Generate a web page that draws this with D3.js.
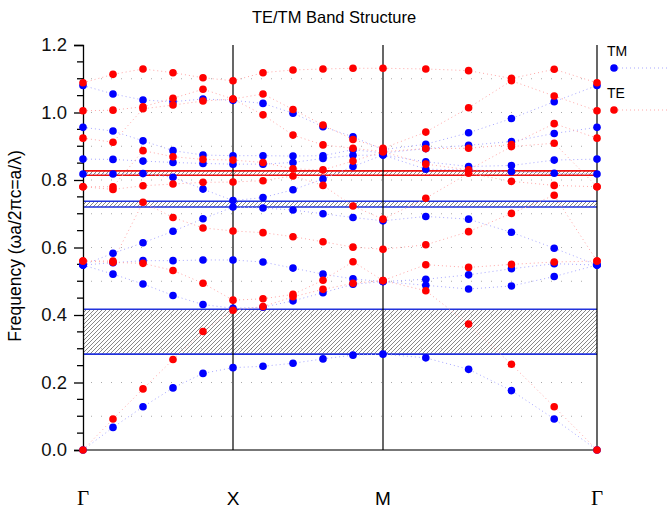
<!DOCTYPE html>
<html>
<head>
<meta charset="utf-8">
<script src="https://cdn.jsdelivr.net/npm/d3@7"></script>
<style>
  body { margin: 0; background: #fff; }
  text { font-family: "Liberation Sans", Arial, sans-serif; }
</style>
</head>
<body>
<svg width="667" height="512"></svg>
<script>
// symmetry points along the k-path
var kLabels = ["\u0393", "X", "M", "\u0393"];
var kTicks = [0, 5, 10, 15];

// frequencies per k-point (sorted, 8 bands each)
var teFreq = [
  [0.000, 0.560, 0.560, 0.780, 0.780, 0.924, 1.005, 1.088],
  [0.092, 0.556, 0.560, 0.772, 0.780, 0.912, 1.007, 1.113],
  [0.181, 0.553, 0.734, 0.783, 0.887, 1.011, 1.017, 1.129],
  [0.268, 0.532, 0.689, 0.788, 0.869, 1.022, 1.042, 1.118],
  [0.351, 0.494, 0.658, 0.793, 0.861, 1.034, 1.069, 1.103],
  [0.414, 0.444, 0.649, 0.794, 0.859, 1.040, 1.040, 1.094],
  [0.425, 0.448, 0.644, 0.798, 0.852, 0.993, 1.055, 1.118],
  [0.454, 0.461, 0.632, 0.812, 0.833, 0.933, 1.009, 1.126],
  [0.476, 0.503, 0.617, 0.784, 0.830, 0.904, 0.963, 1.129],
  [0.494, 0.558, 0.601, 0.723, 0.856, 0.894, 0.920, 1.131],
  [0.502, 0.502, 0.595, 0.684, 0.884, 0.884, 0.894, 1.131],
  [0.472, 0.549, 0.608, 0.746, 0.847, 0.893, 0.942, 1.129],
  [0.373, 0.541, 0.647, 0.820, 0.830, 0.894, 1.014, 1.124],
  [0.254, 0.550, 0.701, 0.796, 0.899, 0.905, 1.094, 1.101],
  [0.128, 0.557, 0.755, 0.784, 0.909, 0.967, 1.049, 1.128],
  [0.000, 0.560, 0.560, 0.780, 0.780, 0.924, 1.005, 1.088]
];

var tmFreq = [
  [0.000, 0.548, 0.548, 0.548, 0.818, 0.862, 0.956, 1.080],
  [0.067, 0.521, 0.555, 0.583, 0.818, 0.861, 0.945, 1.055],
  [0.128, 0.492, 0.561, 0.614, 0.819, 0.856, 0.916, 1.037],
  [0.184, 0.458, 0.561, 0.648, 0.808, 0.852, 0.887, 1.032],
  [0.227, 0.431, 0.563, 0.685, 0.773, 0.849, 0.874, 1.040],
  [0.244, 0.420, 0.563, 0.720, 0.739, 0.847, 0.872, 1.036],
  [0.248, 0.423, 0.557, 0.717, 0.748, 0.847, 0.872, 1.027],
  [0.257, 0.442, 0.539, 0.711, 0.771, 0.852, 0.871, 0.998],
  [0.270, 0.466, 0.521, 0.700, 0.803, 0.864, 0.872, 0.958],
  [0.281, 0.491, 0.507, 0.689, 0.840, 0.873, 0.890, 0.928],
  [0.284, 0.499, 0.499, 0.679, 0.874, 0.874, 0.880, 0.890],
  [0.273, 0.488, 0.506, 0.692, 0.832, 0.854, 0.893, 0.906],
  [0.239, 0.477, 0.519, 0.684, 0.830, 0.840, 0.903, 0.940],
  [0.176, 0.486, 0.537, 0.645, 0.825, 0.843, 0.914, 0.982],
  [0.092, 0.514, 0.552, 0.598, 0.820, 0.859, 0.938, 1.032],
  [0.000, 0.548, 0.548, 0.548, 0.818, 0.862, 0.956, 1.080]
];

// band gaps [low, high]
var tmGaps = [[0.284, 0.417], [0.720, 0.737]];
var teGaps = [[0.814, 0.827]];

var svg = d3.select("svg");

var x = d3.scaleLinear().domain(kTicks).range([83, 233, 383, 597]);
var y = d3.scaleLinear().domain([0, 1.2]).range([450, 45]);

// hatch pattern for the gaps
var defs = svg.append("defs");
defs.append("pattern")
    .attr("id", "hatch")
    .attr("patternUnits", "userSpaceOnUse")
    .attr("width", 4)
    .attr("height", 4)
  .append("path")
    .attr("d", "M-1,1 l2,-2 M0,4 l4,-4 M3,5 l2,-2")
    .attr("stroke", "#555")
    .attr("stroke-width", 0.7);

// title
svg.append("text")
    .attr("x", 334)
    .attr("y", 23)
    .attr("text-anchor", "middle")
    .style("font-size", "16.5px")
    .text("TE/TM Band Structure");

// dotted grid
svg.append("g")
    .selectAll("line")
    .data(d3.range(1, 12).map(d => d / 10))
    .join("line")
    .attr("x1", 91)
    .attr("x2", 591)
    .attr("y1", d => y(d))
    .attr("y2", d => y(d))
    .attr("stroke", "#aaa")
    .attr("stroke-dasharray", "1,9");

// gaps
function drawGaps(gaps, color) {
    var g = svg.append("g");
    gaps.forEach(function (gp) {
        g.append("rect")
            .attr("x", x(0))
            .attr("width", x(15) - x(0))
            .attr("y", y(gp[1]))
            .attr("height", y(gp[0]) - y(gp[1]))
            .attr("fill", "url(#hatch)");
        [gp[0], gp[1]].forEach(function (v) {
            g.append("line")
                .attr("x1", x(0)).attr("x2", x(15))
                .attr("y1", y(v)).attr("y2", y(v))
                .attr("stroke", color)
                .attr("stroke-width", 1.6);
        });
    });
}
drawGaps(tmGaps, "#2233dd");
drawGaps(teGaps, "#ee1111");

// y axis
var yAxis = d3.axisLeft(y)
    .tickValues(d3.range(0, 1.21, 0.2))
    .tickFormat(d3.format(".1f"))
    .tickSize(9)
    .tickPadding(7);
var ya = svg.append("g")
    .attr("transform", "translate(" + x(0) + ",0)")
    .call(yAxis);
ya.select(".domain").attr("stroke", "#000").attr("stroke-width", 1.3);
ya.selectAll("text").style("font-size", "18.5px").attr("fill", "#111");
ya.selectAll(".tick line").attr("stroke-width", 1.3);

svg.append("g")
    .selectAll("line")
    .data(d3.range(0, 1.201, 0.05).filter((d, i) => i % 4 != 0))
    .join("line")
    .attr("x1", x(0) - 6)
    .attr("x2", x(0))
    .attr("y1", d => y(d))
    .attr("y2", d => y(d))
    .attr("stroke", "#000")
    .attr("stroke-width", 1.3);

svg.append("text")
    .attr("transform", "translate(21," + 246 + ") rotate(-90)")
    .attr("text-anchor", "middle")
    .style("font-size", "17.5px")
    .text("Frequency (\u03c9a/2\u03c0c=a/\u03bb)");

// bottom line and symmetry lines
svg.append("line")
    .attr("x1", x(0)).attr("x2", x(15))
    .attr("y1", y(0)).attr("y2", y(0))
    .attr("stroke", "#777")
    .attr("stroke-width", 2);

svg.append("g")
    .selectAll("line")
    .data(kTicks.slice(1))
    .join("line")
    .attr("x1", d => x(d)).attr("x2", d => x(d))
    .attr("y1", y(1.2)).attr("y2", y(0))
    .attr("stroke", "#000")
    .attr("stroke-width", 1.2);

svg.append("g")
    .selectAll("text")
    .data(kTicks)
    .join("text")
    .attr("x", d => x(d))
    .attr("y", 505)
    .attr("text-anchor", "middle")
    .style("font-size", (d, i) => kLabels[i] == "X" || kLabels[i] == "M" ? "19px" : "21px")
    .style("font-family", (d, i) => kLabels[i] == "X" || kLabels[i] == "M" ? "Liberation Sans, Arial, sans-serif" : "Liberation Serif, Times New Roman, serif")
    .text((d, i) => kLabels[i]);

// bands
function bands(rows) {
    return d3.range(rows[0].length).map(b => rows.map((r, k) => [k, r[b]]));
}
var line = d3.line().x(d => x(d[0])).y(d => y(d[1]));

function drawSeries(rows, lineColor) {
    svg.append("g")
        .selectAll("path")
        .data(bands(rows))
        .join("path")
        .attr("d", line)
        .attr("fill", "none")
        .attr("stroke", lineColor)
        .attr("stroke-width", 1)
        .attr("stroke-dasharray", "1,3");
}
function drawDots(rows, dotColor) {
    var pts = [];
    rows.forEach((r, k) => r.forEach(v => pts.push([k, v])));
    svg.append("g")
        .selectAll("circle")
        .data(pts)
        .join("circle")
        .attr("cx", d => x(d[0]))
        .attr("cy", d => y(d[1]))
        .attr("r", 3.8)
        .attr("fill", dotColor);
}
drawSeries(tmFreq, "#a8a8ff");
drawSeries(teFreq, "#ffa8a8");
drawDots(tmFreq, "#0000ff");
drawDots(teFreq, "#ff0000");

// legend
var legend = [
    { name: "TM", dot: "#0000ff", line: "#a8a8ff", ty: 56, ly: 68 },
    { name: "TE", dot: "#ff0000", line: "#ffa8a8", ty: 98, ly: 110 }
];
var lg = svg.append("g");
lg.selectAll("text")
    .data(legend)
    .join("text")
    .attr("x", 607)
    .attr("y", d => d.ty)
    .style("font-size", "14px")
    .text(d => d.name);
lg.selectAll("line")
    .data(legend)
    .join("line")
    .attr("x1", 618).attr("x2", 667)
    .attr("y1", d => d.ly).attr("y2", d => d.ly)
    .attr("stroke", d => d.line)
    .attr("stroke-dasharray", "1,3");
lg.selectAll("circle")
    .data(legend)
    .join("circle")
    .attr("cx", 614)
    .attr("cy", d => d.ly)
    .attr("r", 3.8)
    .attr("fill", d => d.dot);
</script>
</body>
</html>
